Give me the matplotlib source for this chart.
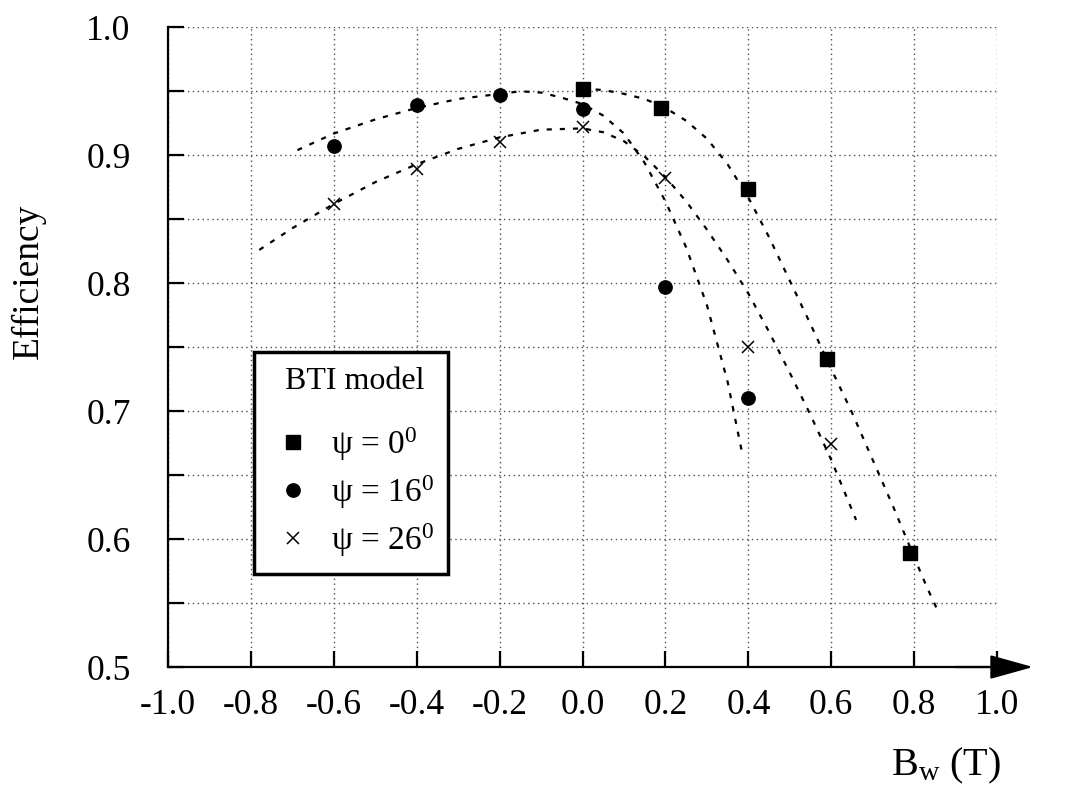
import matplotlib
matplotlib.use('Agg')
import matplotlib.pyplot as plt
from matplotlib.ticker import MultipleLocator, FormatStrFormatter

plt.rcParams['font.family'] = ['Liberation Serif', 'DejaVu Serif']
plt.rcParams['mathtext.fontset'] = 'custom'
plt.rcParams['mathtext.rm'] = 'Liberation Serif'
plt.rcParams['mathtext.it'] = 'Liberation Serif:italic'
plt.rcParams['axes.unicode_minus'] = False

# measured points (BTI model)
bw_psi0 = [0.0, 0.19, 0.40, 0.59, 0.79]
eff_psi0 = [0.952, 0.937, 0.874, 0.741, 0.589]

bw_psi16 = [-0.60, -0.40, -0.20, 0.0, 0.20, 0.40]
eff_psi16 = [0.907, 0.939, 0.947, 0.936, 0.797, 0.710]

bw_psi26 = [-0.60, -0.40, -0.20, 0.0, 0.20, 0.40, 0.60]
eff_psi26 = [0.862, 0.889, 0.910, 0.922, 0.882, 0.750, 0.674]

# dotted fit curves
fit0_x = [0.0, 0.05, 0.10, 0.15, 0.20, 0.25, 0.30, 0.35, 0.40, 0.45, 0.50,
          0.55, 0.60, 0.65, 0.70, 0.75, 0.80, 0.83, 0.86]
fit0_y = [0.952, 0.951, 0.948, 0.944, 0.937, 0.927, 0.913, 0.893, 0.867,
          0.836, 0.802, 0.768, 0.733, 0.699, 0.662, 0.625, 0.586, 0.563, 0.542]

fit16_x = [-0.688, -0.60, -0.50, -0.40, -0.30, -0.20, -0.15, -0.10, -0.05,
           0.0, 0.05, 0.10, 0.15, 0.20, 0.25, 0.30, 0.35, 0.384]
fit16_y = [0.904, 0.917, 0.928, 0.937, 0.944, 0.948, 0.950, 0.949, 0.945,
           0.940, 0.931, 0.917, 0.894, 0.864, 0.828, 0.783, 0.723, 0.669]

fit26_x = [-0.78, -0.70, -0.60, -0.50, -0.40, -0.30, -0.20, -0.10, 0.0,
           0.05, 0.10, 0.15, 0.20, 0.25, 0.30, 0.35, 0.40, 0.45, 0.50,
           0.55, 0.60, 0.66]
fit26_y = [0.826, 0.843, 0.862, 0.879, 0.893, 0.905, 0.914, 0.920, 0.921,
           0.918, 0.911, 0.899, 0.883, 0.864, 0.842, 0.818, 0.792, 0.762,
           0.730, 0.697, 0.662, 0.615]

fig = plt.figure(figsize=(10.67, 7.92), dpi=100)
ax = fig.add_axes([0.1575, 0.1578, 0.7769, 0.8077])

fit_style = dict(color='k', lw=1.6, linestyle=(0, (2.3, 3.6)), clip_on=False)
ax.plot(fit0_x, fit0_y, **fit_style)
ax.plot(fit16_x, fit16_y, **fit_style)
ax.plot(fit26_x, fit26_y, **fit_style)

h0, = ax.plot(bw_psi0, eff_psi0, 's', color='k', ms=9.8, ls='none', clip_on=False)
h1, = ax.plot(bw_psi16, eff_psi16, 'o', color='k', ms=9.6, ls='none', clip_on=False)
h2, = ax.plot(bw_psi26, eff_psi26, 'x', color='k', ms=8.5, mew=1.1, ls='none', clip_on=False)

ax.set_xlim(-1.0, 1.0)
ax.set_ylim(0.5, 1.0)
ax.xaxis.set_major_locator(MultipleLocator(0.2))
ax.xaxis.set_major_formatter(FormatStrFormatter('%.1f'))
ax.yaxis.set_major_locator(MultipleLocator(0.1))
ax.yaxis.set_minor_locator(MultipleLocator(0.05))
ax.yaxis.set_major_formatter(FormatStrFormatter('%.1f'))

ax.grid(which='both', color='0.3', linestyle=(0, (1, 2.5)), lw=1.0)
ax.set_axisbelow(True)

for s in ['top', 'right']:
    ax.spines[s].set_visible(False)
for s in ['left', 'bottom']:
    ax.spines[s].set_linewidth(1.6)

ax.tick_params(which='both', direction='in', length=11.5, width=1.6, labelsize=25.5)
ax.tick_params(axis='x', pad=16)
ax.tick_params(axis='y', pad=27)

ax.annotate('', xy=(1.0435, 0), xytext=(0.95, 0), xycoords='axes fraction',
            arrowprops=dict(arrowstyle='-|>,head_length=0.9,head_width=0.25',
                            lw=1.6, color='k', mutation_scale=30,
                            shrinkA=0, shrinkB=0),
            annotation_clip=False)

fig.text(28 / 1067, 1 - 281 / 792, 'Efficiency', rotation=90,
         ha='center', va='center', fontsize=27)
fig.text(1001 / 1067, 1 - 766 / 792, 'B$_{\\mathrm{w}}$ (T)',
         ha='right', va='center', fontsize=29)

leg = ax.legend(handles=[h0, h1, h2],
                labels=['ψ = 0$^{0}$', 'ψ = 16$^{0}$', 'ψ = 26$^{0}$'],
                title='  BTI model', loc='upper left',
                bbox_to_anchor=(254 / 1067, 1 - 352 / 792),
                bbox_transform=fig.transFigure,
                fontsize=24, title_fontsize=23, frameon=True, fancybox=False,
                edgecolor='k', framealpha=1, borderaxespad=0,
                handlelength=1.45, handletextpad=0.4, labelspacing=0.31,
                borderpad=0.45, alignment='left')
leg.get_frame().set_linewidth(2.5)
leg._legend_box.sep = 21

fig.savefig('out.png', dpi=100)
